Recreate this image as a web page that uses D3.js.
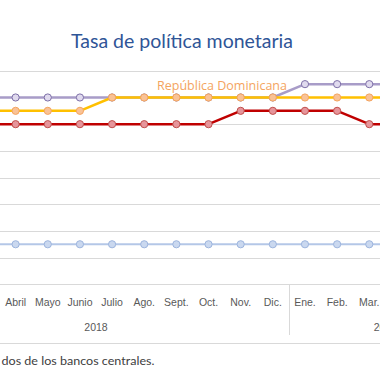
<!DOCTYPE html>
<html>
<head>
<meta charset="utf-8">
<script src="https://cdn.jsdelivr.net/npm/d3@7"></script>
<style>
  html, body { margin: 0; padding: 0; background: #ffffff; }
  svg { display: block; }
</style>
</head>
<body>
<svg id="chart" width="380" height="380"></svg>
<script>
// ---- data ----
const allMonths = ["Ene.", "Feb.", "Mar.", "Abril", "Mayo", "Junio", "Julio", "Ago.", "Sept.", "Oct.", "Nov.", "Dic.",
                   "Ene. ", "Feb. ", "Mar. ", "Abr. ", "May. ", "Jun. "];
const monthYear = [2018,2018,2018,2018,2018,2018,2018,2018,2018,2018,2018,2018,2019,2019,2019,2019,2019,2019];
const years = ["2018", "2019"];
// months with data visible in the chart (Mar. 2018 .. Abr. 2019)
const dataMonths = ["Mar.", "Abril", "Mayo", "Junio", "Julio", "Ago.", "Sept.", "Oct.", "Nov.", "Dic.", "Ene. ", "Feb. ", "Mar. ", "Abr. "];
const purpleValues = [5.5, 5.5, 5.5, 5.5, 5.5, 5.5, 5.5, 5.5, 5.5, 5.5, 5.75, 5.75, 5.75, 5.75];
const domRepValues = [5.25, 5.25, 5.25, 5.25, 5.5, 5.5, 5.5, 5.5, 5.5, 5.5, 5.5, 5.5, 5.5, 5.5];
const redValues    = [5.0, 5.0, 5.0, 5.0, 5.0, 5.0, 5.0, 5.0, 5.25, 5.25, 5.25, 5.25, 5.0, 5.0];
const blueValues   = [2.75, 2.75, 2.75, 2.75, 2.75, 2.75, 2.75, 2.75, 2.75, 2.75, 2.75, 2.75, 2.75, 2.75];
const yTicks = [2.0, 2.5, 3.0, 3.5, 4.0, 4.5, 5.0, 5.5, 6.0];
const seriesLabel = "República Dominicana";
const titleText = "Tasa de política monetaria";
const sourceText = "dos de los bancos centrales.";

// ---- layout ----
const svg = d3.select("#chart");
const W = 380, H = 380;
const x = d3.scaleBand().domain(allMonths).range([-96.9, 481.8]).padding(0);
const cx = m => x(m) + x.bandwidth() / 2;
const y = d3.scaleLinear().domain([2, 6]).range([284.3, 70.8]);

// title
svg.append("text")
  .attr("x", 71).attr("y", 48)
  .attr("font-family", "Lato, 'Open Sans', sans-serif")
  .attr("font-size", 18.5)
  .attr("fill", "#2f5597")
  .attr("textLength", 222)
  .attr("lengthAdjust", "spacingAndGlyphs")
  .text(titleText);

// gridlines
svg.append("g").selectAll("line").data(yTicks).join("line")
  .attr("x1", 0).attr("x2", W)
  .attr("y1", d => Math.round(y(d)) + 0.5).attr("y2", d => Math.round(y(d)) + 0.5)
  .attr("stroke", "#d9d9d9").attr("stroke-width", 1);

// x axis labels (only months whose slot lies within the visible area)
const visibleMonths = allMonths.filter(m => cx(m) > 0 && cx(m) < W);
const xAxis = d3.axisBottom(x).tickValues(visibleMonths).tickSize(0).tickPadding(0);
const gx = svg.append("g").attr("transform", `translate(0,${y(2)})`).call(xAxis);
gx.select(".domain").remove();
gx.selectAll("text")
  .attr("y", 22)
  .attr("dy", 0)
  .attr("font-family", "'Liberation Sans', Arial, sans-serif")
  .attr("font-size", 10.5)
  .attr("fill", "#595959");

// year separators
const sepX = [];
for (let i = 1; i < allMonths.length; i++) {
  if (monthYear[i] !== monthYear[i - 1]) sepX.push(x(allMonths[i]));
}
svg.append("g").selectAll("line").data(sepX).join("line")
  .attr("x1", d => Math.round(d) + 0.5).attr("x2", d => Math.round(d) + 0.5)
  .attr("y1", y(2)).attr("y2", 335)
  .attr("stroke", "#d9d9d9").attr("stroke-width", 1);

// year labels
svg.append("g").selectAll("text").data(years).join("text")
  .attr("x", yr => {
    const ms = allMonths.filter((m, i) => String(monthYear[i]) === yr);
    return (x(ms[0]) + x(ms[ms.length - 1]) + x.bandwidth()) / 2;
  })
  .attr("y", 330.5)
  .attr("text-anchor", "middle")
  .attr("font-family", "'Liberation Sans', Arial, sans-serif")
  .attr("font-size", 10.5)
  .attr("fill", "#595959")
  .text(d => d);

// series
const series = [
  { values: blueValues,   line: "#b4c7e7", width: 2.2, fill: "#cad8ef", stroke: "#9db5de" },
  { values: redValues,    line: "#c00000", width: 2.5, fill: "#e6959b", stroke: "#c0504d" },
  { values: purpleValues, line: "#a89cc8", width: 2.5, fill: "#e0daee", stroke: "#7e70a8" },
  { values: domRepValues, line: "#ffc000", width: 2.5, fill: "#f9c296", stroke: "#f4a460" }
];
const lineGen = d3.line().x(d => cx(d.m)).y(d => y(d.v));
series.forEach(s => {
  const pts = dataMonths.map((m, i) => ({ m, v: s.values[i] }));
  svg.append("path").datum(pts)
    .attr("d", lineGen)
    .attr("fill", "none")
    .attr("stroke", s.line)
    .attr("stroke-width", s.width)
    .attr("stroke-linejoin", "round");
  svg.append("g").selectAll("circle").data(pts).join("circle")
    .attr("cx", d => cx(d.m)).attr("cy", d => y(d.v))
    .attr("r", 3.6)
    .attr("fill", s.fill)
    .attr("stroke", s.stroke)
    .attr("stroke-width", 1);
});

// series label
svg.append("text")
  .attr("x", 157).attr("y", 89.5)
  .attr("font-family", "'Open Sans', sans-serif")
  .attr("font-size", 12)
  .attr("fill", "#f4a460")
  .attr("textLength", 130)
  .attr("lengthAdjust", "spacingAndGlyphs")
  .text(seriesLabel);

// bottom rule and source
svg.append("line")
  .attr("x1", 0).attr("x2", W).attr("y1", 343.5).attr("y2", 343.5)
  .attr("stroke", "#d9d9d9").attr("stroke-width", 1);
svg.append("text")
  .attr("x", 1.5).attr("y", 365)
  .attr("font-family", "Lato, sans-serif")
  .attr("font-size", 11.5)
  .attr("fill", "#404040")
  .attr("textLength", 153)
  .attr("lengthAdjust", "spacingAndGlyphs")
  .text(sourceText);
</script>
</body>
</html>
